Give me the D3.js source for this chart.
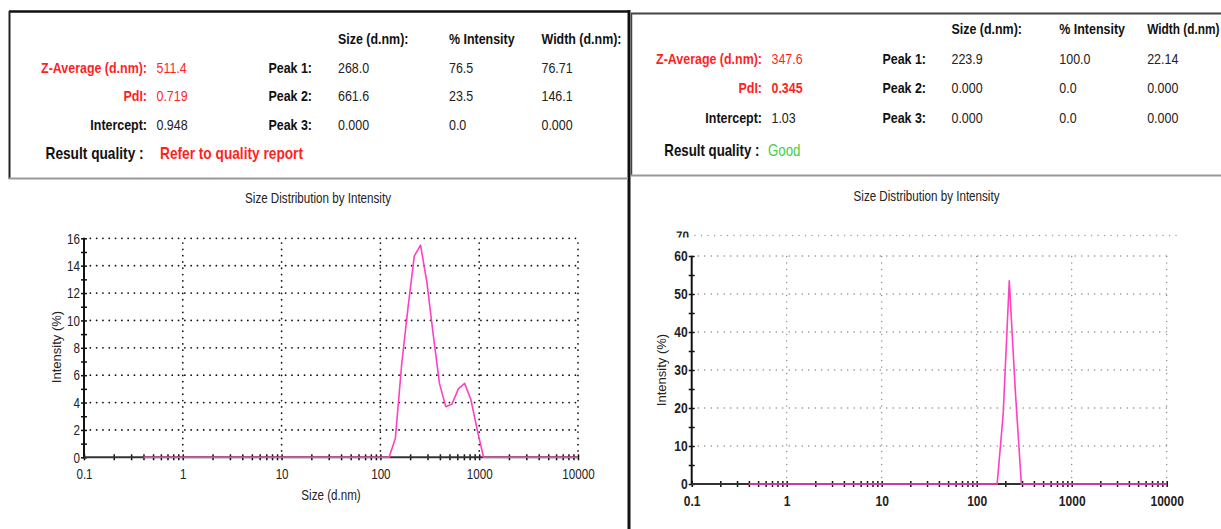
<!DOCTYPE html>
<html>
<head>
<meta charset="utf-8">
<script src="https://cdn.jsdelivr.net/npm/d3@7"></script>
<style>
  html, body { margin: 0; padding: 0; background: #fff; }
  svg { display: block; }
  text { font-family: "Liberation Sans", Arial, sans-serif; }
</style>
</head>
<body>
<svg id="chart" width="1221" height="529"></svg>
<script>
// Size classes (d.nm) of the intensity distribution
const sizes = [0.4, 0.4632, 0.5365, 0.6213, 0.7195, 0.8332, 0.9649, 1.117, 1.294, 1.499,
  1.736, 2.010, 2.328, 2.696, 3.122, 3.615, 4.187, 4.849, 5.615, 6.503,
  7.531, 8.721, 10.10, 11.70, 13.54, 15.69, 18.17, 21.04, 24.36, 28.21,
  32.67, 37.84, 43.82, 50.75, 58.77, 68.06, 78.82, 91.28, 105.7, 122.4,
  141.8, 164.2, 190.1, 220.2, 255.0, 295.3, 342.0, 396.1, 458.7, 531.2,
  615.1, 712.4, 825.0, 955.4, 1106, 1281, 1484, 1718, 1990, 2305,
  2669, 3091, 3580, 4145, 4801, 5560, 6439, 7456, 8635, 10000];

// Intensity (%) per size class, sample A (two peaks)
const intensityA = [0, 0, 0, 0, 0, 0, 0, 0, 0, 0,
  0, 0, 0, 0, 0, 0, 0, 0, 0, 0,
  0, 0, 0, 0, 0, 0, 0, 0, 0, 0,
  0, 0, 0, 0, 0, 0, 0, 0, 0, 0,
  1.4, 6.8, 10.9, 14.7, 15.5, 12.8, 9.0, 5.4, 3.7, 3.9,
  5.0, 5.4, 4.2, 2.0, 0, 0, 0, 0, 0, 0,
  0, 0, 0, 0, 0, 0, 0, 0, 0, 0];

// Intensity (%) per size class, sample B (single narrow peak)
const intensityB = [0, 0, 0, 0, 0, 0, 0, 0, 0, 0,
  0, 0, 0, 0, 0, 0, 0, 0, 0, 0,
  0, 0, 0, 0, 0, 0, 0, 0, 0, 0,
  0, 0, 0, 0, 0, 0, 0, 0, 0, 0,
  0, 0, 18.5, 53.5, 24.5, 0, 0, 0, 0, 0,
  0, 0, 0, 0, 0, 0, 0, 0, 0, 0,
  0, 0, 0, 0, 0, 0, 0, 0, 0, 0];

// Summary table texts
const summaryLabels = ["Z-Average (d.nm):", "PdI:", "Intercept:"];
const peakLabels = ["Peak 1:", "Peak 2:", "Peak 3:"];
const columnHeadsA = ["Size (d.nm):", "% Intensity", "Width (d.nm):"];
const columnHeadsB = ["Size (d.nm):", "% Intensity", "Width (d.nm)"];
const summaryA = ["511.4", "0.719", "0.948"];
const summaryB = ["347.6", "0.345", "1.03"];
const peakSizeA = ["268.0", "661.6", "0.000"];
const peakIntA = ["76.5", "23.5", "0.0"];
const peakWidthA = ["76.71", "146.1", "0.000"];
const peakSizeB = ["223.9", "0.000", "0.000"];
const peakIntB = ["100.0", "0.0", "0.0"];
const peakWidthB = ["22.14", "0.000", "0.000"];
const qualityA = "Refer to quality report";
const qualityB = "Good";

// Axis ticks
const xMajorTicks = [0.1, 1, 10, 100, 1000, 10000];
const yTicksA = [0, 2, 4, 6, 8, 10, 12, 14, 16];
const yTicksB = [0, 10, 20, 30, 40, 50, 60];
const chartTitle = "Size Distribution by Intensity";
const xTitle = "Size (d.nm)";
const yTitle = "Intensity (%)";

const svg = d3.select("#chart");
const RED = "#ff1f1f";
const CURVE = "#ff40c0";
const SX = 0.83; // horizontal squeeze giving the report's condensed lettering

// condensed text helper: anchored at (x, y), squeezed horizontally
function ntext(parent, x, y, str, o = {}) {
  return parent.append("text")
    .attr("transform", `translate(${x},${y}) scale(${o.sx || SX},1)`)
    .attr("text-anchor", o.anchor || "start")
    .attr("font-size", o.size || 15)
    .attr("font-weight", o.weight || "normal")
    .attr("fill", o.fill || "#222")
    .text(str);
}

// ---------- panel frames ----------
const frame = svg.append("g");
frame.append("line").attr("x1", 9).attr("x2", 630).attr("y1", 11.5).attr("y2", 11.5)
  .attr("stroke", "#111").attr("stroke-width", 2.5);
frame.append("line").attr("x1", 9.5).attr("x2", 9.5).attr("y1", 11).attr("y2", 179)
  .attr("stroke", "#222").attr("stroke-width", 2);
frame.append("line").attr("x1", 629).attr("x2", 629).attr("y1", 10).attr("y2", 529)
  .attr("stroke", "#111").attr("stroke-width", 3);
frame.append("line").attr("x1", 9).attr("x2", 628).attr("y1", 178.5).attr("y2", 178.5)
  .attr("stroke", "#999").attr("stroke-width", 2);
frame.append("line").attr("x1", 631).attr("x2", 1221).attr("y1", 13.5).attr("y2", 13.5)
  .attr("stroke", "#444").attr("stroke-width", 2);
frame.append("line").attr("x1", 631.5).attr("x2", 631.5).attr("y1", 13).attr("y2", 176)
  .attr("stroke", "#444").attr("stroke-width", 1.5);
frame.append("line").attr("x1", 631).attr("x2", 1221).attr("y1", 175.5).attr("y2", 175.5)
  .attr("stroke", "#999").attr("stroke-width", 2);

// ---------- summary tables ----------
function table(o) {
  const g = svg.append("g");
  const fs = o.fontSize;
  o.heads.forEach((h, i) => {
    ntext(g, o.cols[i], o.headY, h,
      { size: fs, weight: "bold", fill: "#111", sx: (o.headSx || [])[i] });
  });
  o.rowsY.forEach((y, r) => {
    const red = r < 2;
    ntext(g, o.labelRight, y, summaryLabels[r],
      { size: fs, weight: "bold", fill: red ? RED : "#111", anchor: "end" });
    ntext(g, o.valueX, y, o.summary[r],
      { size: fs, weight: o.boldValues[r] ? "bold" : "normal", fill: red ? RED : "#222" });
    ntext(g, o.peakRight, y, peakLabels[r],
      { size: fs, weight: "bold", fill: "#111", anchor: "end" });
    [o.sizeVals, o.intVals, o.widthVals].forEach((arr, c) => {
      ntext(g, o.cols[c], y, arr[r], { size: fs, fill: "#222" });
    });
  });
  ntext(g, o.qualityX, o.qualityY, "Result quality :",
    { size: o.qFont, weight: "bold", fill: "#111" });
  ntext(g, o.qValueX, o.qualityY, o.quality,
    { size: o.qFont, weight: o.qBold ? "bold" : "normal", fill: o.qColor });
}

table({
  fontSize: 15, heads: columnHeadsA, cols: [338, 449, 541.5], headY: 44,
  rowsY: [72.5, 101, 130], labelRight: 147, valueX: 156.5, peakRight: 312,
  summary: summaryA, boldValues: [false, false, false],
  sizeVals: peakSizeA, intVals: peakIntA, widthVals: peakWidthA,
  qualityX: 45.5, qValueX: 160, qualityY: 159, qFont: 16.5,
  quality: qualityA, qColor: RED, qBold: true
});

table({
  fontSize: 15, heads: columnHeadsB, cols: [951.5, 1059.3, 1147.2], headY: 34,
  headSx: [undefined, undefined, 0.79],
  rowsY: [64, 93, 123], labelRight: 762, valueX: 771.5, peakRight: 926,
  summary: summaryB, boldValues: [false, true, false],
  sizeVals: peakSizeB, intVals: peakIntB, widthVals: peakWidthB,
  qualityX: 664.3, qValueX: 768, qualityY: 155.5, qFont: 16,
  quality: qualityB, qColor: "#3fcf3f", qBold: false
});

// ---------- distribution charts ----------
function minorTicks() {
  const out = [];
  [0.1, 1, 10, 100, 1000].forEach(d => {
    for (let k = 2; k <= 9; k++) out.push(d * k);
  });
  return out;
}

function chart(o) {
  const g = svg.append("g");
  const x = d3.scaleLog().domain([0.1, 10000]).range(o.xRange);
  const y = d3.scaleLinear().domain(o.yDomain).range(o.yRange);

  // title
  ntext(g, o.titleX, o.titleY, chartTitle, { size: 14, anchor: "middle", fill: "#222" });

  // dotted grid
  const grid = g.append("g").attr("stroke", o.gridColor).attr("stroke-width", o.gridWidth)
    .attr("stroke-dasharray", o.gridDash).attr("stroke-linecap", "round");
  o.yTicks.filter(v => v > 0).forEach(v => {
    grid.append("line").attr("x1", x(0.1)).attr("x2", x(10000))
      .attr("y1", y(v)).attr("y2", y(v));
  });
  xMajorTicks.filter(v => v > 0.1).forEach(v => {
    grid.append("line").attr("x1", x(v)).attr("x2", x(v))
      .attr("y1", y(0)).attr("y2", y(o.yDomain[1]));
  });

  // y axis: minor/major tick marks crossing the axis line
  const yMinor = d3.range(o.yDomain[0], o.yDomain[1] + o.yMinorStep / 2, o.yMinorStep);
  const ya = g.append("g").attr("transform", `translate(${x(0.1)},0)`)
    .call(d3.axisLeft(y).tickValues(yMinor).tickSize(3).tickFormat(""));
  ya.selectAll(".tick line").attr("x2", 3).attr("x1", -3).attr("stroke", "#111").attr("stroke-width", 1.5);
  ya.select(".domain").remove();
  // y tick labels
  const yl = g.append("g").attr("transform", `translate(${x(0.1)},0)`)
    .call(d3.axisLeft(y).tickValues(o.yTicks).tickSize(0).tickPadding(o.yPad));
  yl.select(".domain").remove();
  yl.selectAll(".tick text").each(function (d) {
    const parent = d3.select(this.parentNode);
    d3.select(this).remove();
    ntext(parent, -o.yPad, 0, String(d),
      { size: o.tickFont, weight: o.tickWeight, anchor: "end" }).attr("dy", "0.34em");
  });
  g.append("line").attr("x1", x(0.1)).attr("x2", x(0.1)).attr("y1", y(0) + 1).attr("y2", y(o.yDomain[1]))
    .attr("stroke", "#111").attr("stroke-width", 2);

  // x axis
  const xa = g.append("g").attr("transform", `translate(0,${y(0)})`)
    .call(d3.axisBottom(x).tickValues(minorTicks().concat(xMajorTicks)).tickSize(3).tickFormat(""));
  xa.select(".domain").remove();
  xa.selectAll(".tick line").attr("y1", -3).attr("y2", 3).attr("stroke", "#111").attr("stroke-width", 1.5);
  const xl = g.append("g").attr("transform", `translate(0,${y(0)})`)
    .call(d3.axisBottom(x).tickValues(xMajorTicks).tickSize(0).tickPadding(o.xPad)
      .tickFormat(d => String(d)));
  xl.select(".domain").remove();
  xl.selectAll(".tick text").each(function (d) {
    const parent = d3.select(this.parentNode);
    d3.select(this).remove();
    ntext(parent, 0, o.xPad, String(d),
      { size: o.tickFont, weight: o.tickWeight, anchor: "middle" }).attr("dy", "0.71em");
  });
  g.append("line").attr("x1", x(0.1)).attr("x2", x(10000)).attr("y1", y(0)).attr("y2", y(0))
    .attr("stroke", "#333").attr("stroke-width", 2);

  // axis titles
  g.append("text")
    .attr("transform", `translate(${o.yTitleX},${o.yTitleY}) rotate(-90)`)
    .attr("text-anchor", "middle").attr("font-size", 13).attr("fill", "#222").text(yTitle);
  if (o.showXTitle) {
    ntext(g, o.xTitleX, o.xTitleY, xTitle, { size: 14, anchor: "middle" });
  }

  // distribution curve
  const pts = sizes.map((s, i) => [s, o.values[i]]);
  g.append("path").datum(pts)
    .attr("fill", "none").attr("stroke", CURVE).attr("stroke-width", 1.6)
    .attr("stroke-linejoin", "round")
    .attr("d", d3.line().x(d => x(d[0])).y(d => y(d[1])));
  return { x, y, g };
}

chart({
  xRange: [84, 578], yDomain: [0, 16], yRange: [457.3, 238.3],
  values: intensityA, yTicks: yTicksA, yMinorStep: 1,
  titleX: 318, titleY: 202.5,
  gridColor: "#111", gridWidth: 1.7, gridDash: "0.1,6.2",
  tickFont: 14, tickWeight: "normal", yPad: 4, xPad: 12,
  yTitleX: 61, yTitleY: 347, showXTitle: true, xTitleX: 331, xTitleY: 500
});

chart({
  xRange: [691.7, 1166.7], yDomain: [0, 60], yRange: [484, 256],
  values: intensityB, yTicks: yTicksB, yMinorStep: 5,
  titleX: 926.5, titleY: 200.5,
  gridColor: "#888", gridWidth: 1.4, gridDash: "0.1,6.4",
  tickFont: 14.5, tickWeight: "bold", yPad: 4, xPad: 12,
  yTitleX: 666, yTitleY: 370, showXTitle: false
});

// clipped top gridline with its partly hidden label above the plot
const clip = svg.append("clipPath").attr("id", "topclip");
clip.append("rect").attr("x", 670).attr("y", 231.5).attr("width", 30).attr("height", 6);
const topLabel = svg.append("g").attr("clip-path", "url(#topclip)");
ntext(topLabel, 689, 240.5, "70", { size: 14, weight: "bold", anchor: "end" });
svg.append("line").attr("x1", 695).attr("x2", 1177).attr("y1", 235.5).attr("y2", 235.5)
  .attr("stroke", "#999").attr("stroke-width", 1.3).attr("stroke-dasharray", "0.1,6.4")
  .attr("stroke-linecap", "round");
</script>
</body>
</html>
